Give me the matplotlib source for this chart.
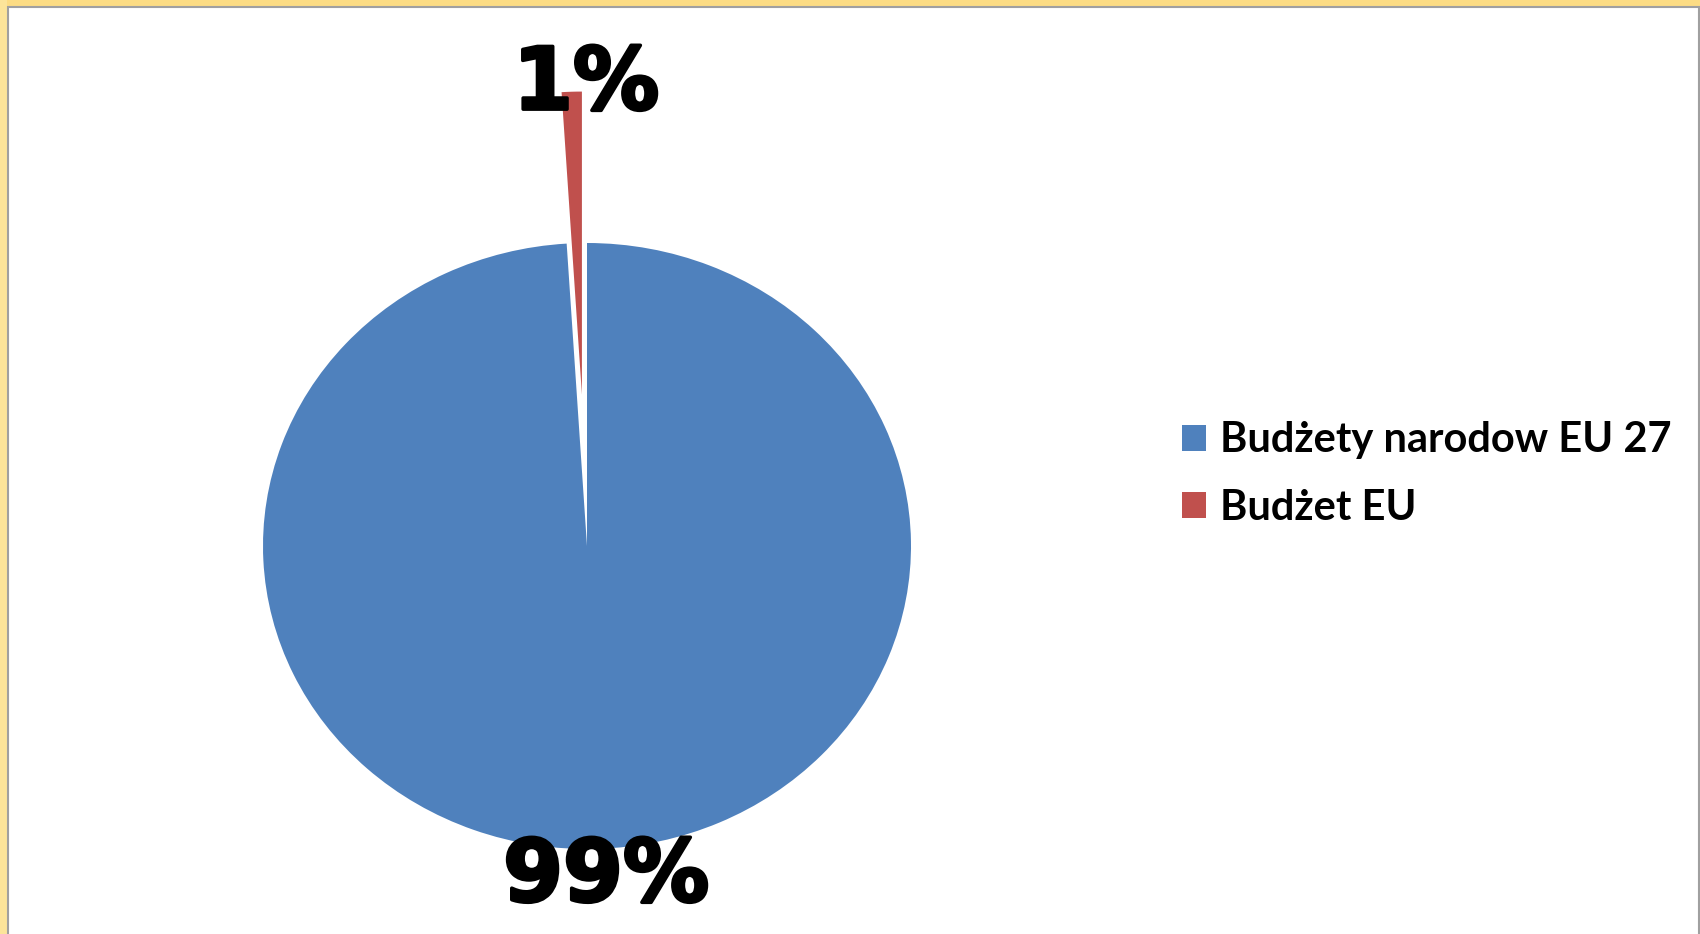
import matplotlib.pyplot as plt
import matplotlib.patheffects as pe
import numpy as np
from matplotlib.patches import Rectangle

# data
labels = ['Budżety narodow EU 27', 'Budżet EU']
shares = [99, 1]
pct_labels = ['99%', '1%']
colors = ['#4F81BD', '#C0504D']
explode = [0, 0.5]

W, H = 1700, 934
fig = plt.figure(figsize=(W / 100, H / 100), dpi=100)
fig.patch.set_facecolor('white')

# pie geometry in pixels (slightly wider than tall, like the original)
cx, cy = 587, 934 - 546
rx, ry = 324, 303

ax = fig.add_axes([0, 0, 1, 1])
wedges, _ = ax.pie(shares, colors=colors, startangle=90, counterclock=False,
                   explode=explode, radius=1,
                   wedgeprops=dict(linewidth=0))
ax.set_aspect('auto')
ax.set_xlim(-cx / rx, (W - cx) / rx)
ax.set_ylim(-cy / ry, (H - cy) / ry)
ax.axis('off')

# percentage labels just outside each wedge
label_dist = [1.095, 1.02]
label_dx = [0.025, 0.045]
for w, txt, ex, d, dx in zip(wedges, pct_labels, explode, label_dist, label_dx):
    ang = np.deg2rad((w.theta1 + w.theta2) / 2)
    r = ex + d
    ax.text(r * np.cos(ang) + dx, r * np.sin(ang), txt, ha='center', va='center',
            fontsize=62, fontweight='bold', family='DejaVu Sans', color='black',
            path_effects=[pe.withStroke(linewidth=2.5, foreground='black')])

# legend
handles = [Rectangle((0, 0), 1, 1, facecolor=c, edgecolor='none') for c in colors]
leg = fig.legend(handles, labels, loc='center left', bbox_to_anchor=(0.683, 0.4925),
                 frameon=False, handlelength=0.58, handleheight=0.58,
                 handletextpad=0.33, labelspacing=0.7, borderpad=0,
                 prop=dict(family='Lato', weight='bold', size=30))

# window-like frame: yellow band at top/left, grey line inside
fig.patches.append(Rectangle((0, 1 - 6 / H), 1, 6 / H, transform=fig.transFigure,
                             facecolor='#FCDC84', edgecolor='none', zorder=5))
fig.patches.append(Rectangle((0, 0), 7 / W, 1, transform=fig.transFigure,
                             facecolor='#FCE49A', edgecolor='none', zorder=5))
fig.patches.append(Rectangle((7.5 / W, -0.01), 1 - 9 / W, 1 - 7 / H + 0.01,
                             transform=fig.transFigure, facecolor='none',
                             edgecolor='#A0A0A0', linewidth=1.5, zorder=6))

fig.savefig('out.png', dpi=100)
